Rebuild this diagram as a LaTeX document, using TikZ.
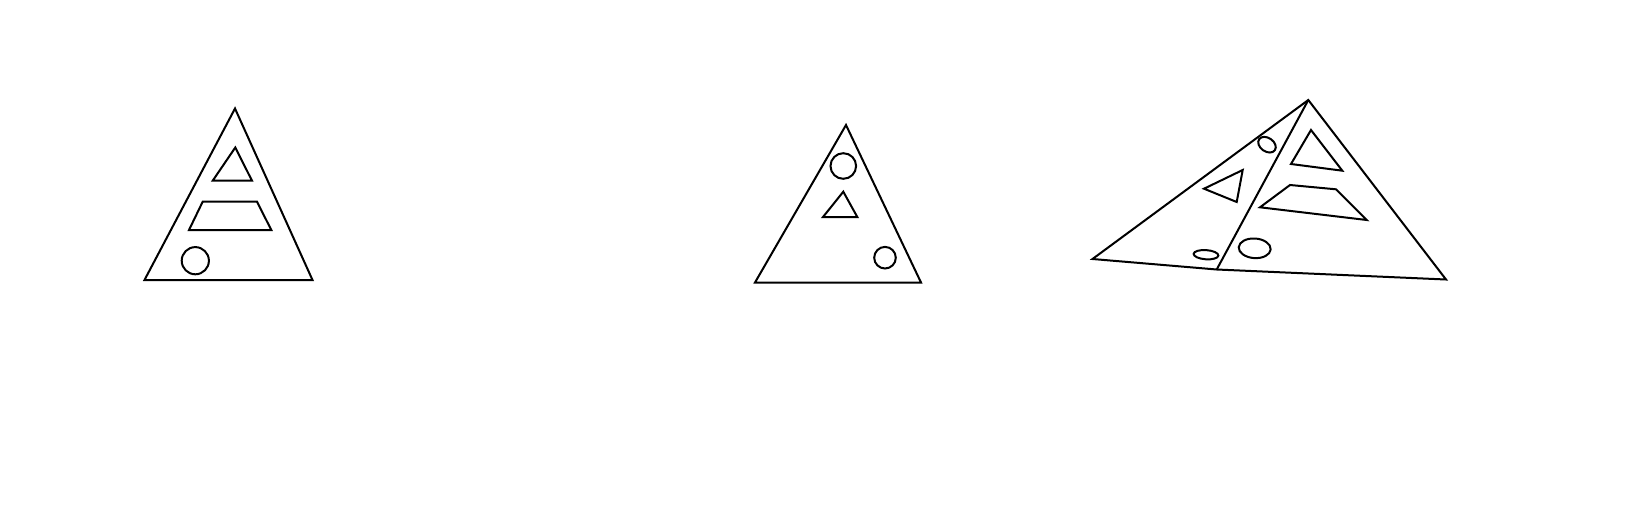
\documentclass[tikz,border=0pt]{standalone}
\begin{document}
\begin{tikzpicture}[x=0.5pt,y=-0.5pt,line join=miter]
\tikzset{shape line/.style={draw=black,line width=1pt}}
\useasboundingbox (0,0) rectangle (1640,520);
% Triangle 1
\draw[shape line] (235,108.5) -- (144.5,280) -- (312.5,280) -- cycle;
\draw[shape line] (235.3,147.5) -- (212.7,180.7) -- (252,180.7) -- cycle;
\draw[shape line] (202.7,201.7) -- (257,201.7) -- (271.3,230) -- (189,230) -- cycle;
\draw[shape line] (195.3,260.7) circle[radius=6.8pt];
% Triangle 2
\draw[shape line] (846,125) -- (755,282.5) -- (921,282.5) -- cycle;
\draw[shape line] (843.3,166) circle[radius=6.4pt];
\draw[shape line] (843.3,191.7) -- (823,217) -- (857.3,217) -- cycle;
\draw[shape line] (885,257.7) circle[radius=5.4pt];
% Triangle 3 (two pieces sharing the edge apex--foot)
\coordinate (apex) at (1308.3,100);
\coordinate (lft) at (1092.5,259);
\coordinate (rgt) at (1446,279.5);
\coordinate (foot) at (1216.7,269.5);
\draw[shape line] (apex) -- (lft) -- (foot) -- (rgt) -- cycle;
\draw[shape line] (apex) -- (foot);
\draw[shape line,rotate around={-35:(1267,144.7)}] (1267,144.7) ellipse[x radius=4.8pt,y radius=3.4pt];
\draw[shape line] (1204,188.7) -- (1242.7,170) -- (1236.7,202) -- cycle;
\draw[shape line] (1311,130) -- (1291,164) -- (1342.3,170.7) -- cycle;
\draw[shape line] (1290,185) -- (1336,189.3) -- (1366.7,220) -- (1260,207.3) -- cycle;
\draw[shape line,rotate around={-4:(1254.7,248.3)}] (1254.7,248.3) ellipse[x radius=8pt,y radius=4.9pt];
\draw[shape line,rotate around={-4:(1206,254.7)}] (1206,254.7) ellipse[x radius=6.2pt,y radius=2.3pt];
\end{tikzpicture}
\end{document}
